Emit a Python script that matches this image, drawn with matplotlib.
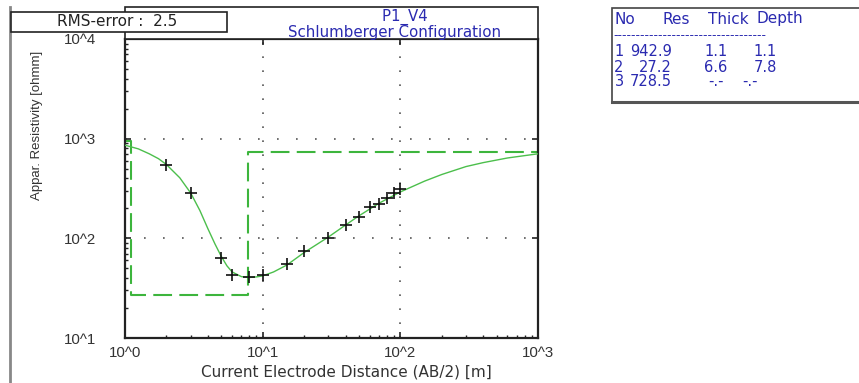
import matplotlib
matplotlib.use("Agg")
import matplotlib.pyplot as plt
from matplotlib.patches import Rectangle
from matplotlib.lines import Line2D
from matplotlib.ticker import FixedLocator, FixedFormatter, LogLocator, NullFormatter

plt.rcParams['font.family'] = ['DejaVu Sans']

# ---- data ----
# measured apparent resistivity (field points)
meas_ab2 = [2, 3, 5, 6, 8, 10, 15, 20, 30, 40, 50, 60, 70, 80, 90, 100]
meas_rho = [545, 283, 64, 42.5, 41, 42.5, 55, 75, 100, 137, 162, 207, 220, 253, 288, 311]

# calculated (model) response curve
calc_ab2 = [1.0, 1.25, 1.5, 1.75, 2.0, 2.5, 3.0, 3.5, 4.0, 4.5, 5.0, 5.5, 6.0, 7.0, 8.0, 9.0, 10, 12,
            15, 20, 30, 40, 50, 70, 100, 150, 200, 300, 400, 600, 1000]
calc_rho = [860, 790, 705, 630, 550, 405, 285, 190, 125, 88, 66, 53, 46, 41.3, 40.5, 41, 42, 46,
            54, 72, 103, 136, 168, 225, 292, 375, 437, 525, 575, 640, 705]

# layer model
layer_no = [1, 2, 3]
layer_res = [942.9, 27.2, 728.5]
layer_thick = [1.1, 6.6, None]
layer_depth = [1.1, 7.8, None]

x_ticks = [1, 10, 100, 1000]
x_ticklabels = ["10^0", "10^1", "10^2", "10^3"]
y_ticks = [10, 100, 1000, 10000]
y_ticklabels = ["10^1", "10^2", "10^3", "10^4"]

W, H = 859, 383
fig = plt.figure(figsize=(W / 100, H / 100), dpi=100)
fig.patch.set_facecolor('white')


def fx(x):
    return x / W


def fy(y):
    return 1 - y / H


TXT = '#333333'
ax_l, ax_r, ax_t, ax_b = 125, 538, 39, 338
ax = fig.add_axes([fx(ax_l), fy(ax_b), fx(ax_r - ax_l), (ax_b - ax_t) / H])
ax.set_xscale('log')
ax.set_yscale('log')
ax.set_xlim(1, 1000)
ax.set_ylim(10, 10000)

# grid: dotted at decades
for xv in x_ticks[1:-1]:
    ax.axvline(xv, color='#555555', lw=1.2, ls=(0, (1, 7.4)), zorder=1)
for yv in y_ticks[1:-1]:
    ax.axhline(yv, color='#555555', lw=1.2, ls=(0, (1, 10.4)), zorder=1)

# model step
step_x = [1] + layer_depth[:2] + [1000]
step_y = layer_res + [layer_res[-1]]
ax.plot(step_x, step_y, drawstyle='steps-post', color='#3db53d', lw=1.5,
        dashes=(9, 3.5), zorder=2)

# calculated curve
ax.plot(calc_ab2, calc_rho, color='#4cbf4c', lw=1.0, zorder=3)

# measured points
ax.plot(meas_ab2, meas_rho, ls='none', marker='+', ms=8, mew=1.2, color='#111111', zorder=4)

ax.xaxis.set_major_locator(FixedLocator(x_ticks))
ax.xaxis.set_major_formatter(FixedFormatter(x_ticklabels))
ax.yaxis.set_major_locator(FixedLocator(y_ticks))
ax.yaxis.set_major_formatter(FixedFormatter(y_ticklabels))
ax.xaxis.set_minor_locator(LogLocator(base=10, subs=range(2, 10)))
ax.yaxis.set_minor_locator(LogLocator(base=10, subs=range(2, 10)))
ax.xaxis.set_minor_formatter(NullFormatter())
ax.yaxis.set_minor_formatter(NullFormatter())

ax.tick_params(which='major', direction='in', length=4, width=1.2, colors='#222222',
               top=True, right=True, labelsize=10.8, labelcolor=TXT)
ax.tick_params(which='minor', direction='in', length=2.5, width=1.0, colors='#222222',
               top=False, right=False)
ax.tick_params(axis='x', which='major', pad=6)
ax.tick_params(axis='y', which='major', pad=21)
for lab in ax.get_xticklabels() + ax.get_yticklabels():
    lab.set_fontfamily('Liberation Sans')
for s in ax.spines.values():
    s.set_linewidth(1.6)
    s.set_color('#222222')

fig.text(fx(346), fy(372), "Current Electrode Distance (AB/2) [m]", ha='center', va='center',
         fontsize=11, color=TXT)
fig.text(fx(37), fy(125), "Appar. Resistivity [ohmm]", rotation=90, ha='center', va='center',
         fontsize=9.5, color=TXT, family='Liberation Sans')

# outer left gray frame line
fig.add_artist(Line2D([fx(9.5), fx(9.5)], [fy(7), fy(383)], color='#888888', lw=2))

# title box
fig.add_artist(Rectangle((fx(125), fy(39)), fx(538 - 125), (39 - 7) / H, transform=fig.transFigure,
                         facecolor='white', edgecolor='#222222', lw=1.2, zorder=5))
fig.text(fx(395), fy(24.5), "    P1_V4\nSchlumberger Configuration", ha='center', va='center',
         multialignment='center', linespacing=1.0, fontsize=10.8, color='#2a2ab0', zorder=6)

# RMS box
fig.add_artist(Rectangle((fx(11), fy(32)), fx(227 - 11), (32 - 12) / H, transform=fig.transFigure,
                         facecolor='white', edgecolor='#222222', lw=1.2, zorder=7))
fig.text(fx(117), fy(22), "RMS-error :  2.5", ha='center', va='center', fontsize=11,
         color='#222222', zorder=8)

# layer table box
fig.add_artist(Rectangle((fx(612), fy(102)), fx(870 - 612), (102 - 8) / H, transform=fig.transFigure,
                         facecolor='white', edgecolor='#444444', lw=1.2, zorder=5))
fig.add_artist(Line2D([fx(612), fx(859)], [fy(102), fy(102)], color='#555555', lw=2.2, zorder=6))

tc = '#2a2ab0'
hdr_x = [614, 663, 708, 757]
for xx, lab in zip(hdr_x, ["No", "Res", "Thick", "Depth"]):
    fig.text(fx(xx), fy(19), lab, ha='left', va='center', fontsize=11, color=tc, zorder=6)
fig.text(fx(613), fy(35.5), "-" * 34, ha='left', va='center', fontsize=9, color=tc, zorder=6)

row_y = [52, 67, 82]
for i, yy in enumerate(row_y):
    fig.text(fx(619), fy(yy), str(layer_no[i]), ha='center', va='center', fontsize=10.5, color=tc, zorder=6)
    fig.text(fx(672), fy(yy), f"{layer_res[i]:.1f}", ha='right', va='center', fontsize=10.5, color=tc, zorder=6)
    th = layer_thick[i]
    dp = layer_depth[i]
    fig.text(fx(716), fy(yy), f"{th:.1f}" if th is not None else "-.-", ha='center', va='center',
             fontsize=10.5, color=tc, zorder=6)
    fig.text(fx(765 if dp is not None else 750), fy(yy), f"{dp:.1f}" if dp is not None else "-.-",
             ha='center', va='center', fontsize=10.5, color=tc, zorder=6)

fig.savefig("out.png", dpi=100, facecolor='white')
